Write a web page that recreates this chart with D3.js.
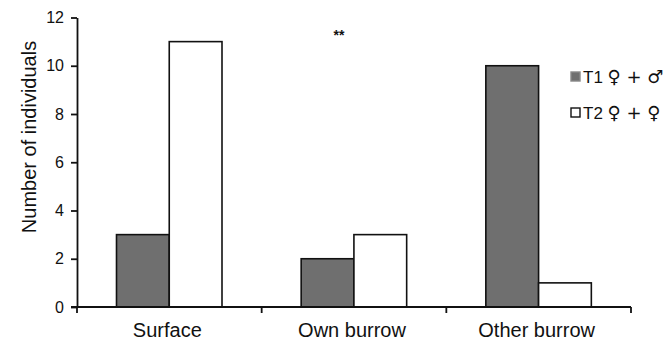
<!DOCTYPE html>
<html>
<head>
<meta charset="utf-8">
<script src="https://cdn.jsdelivr.net/npm/d3@7"></script>
<style>
body{margin:0;background:#fff;}
svg{display:block;}
</style>
</head>
<body>
<svg id="chart" width="670" height="340"></svg>
<script>
// data
var categories = ["Surface", "Own burrow", "Other burrow"];
var seriesNames = ["T1", "T2"];
var seriesSymbols = ["\u2640 + \u2642", "\u2640 + \u2640"];
var t1Values = [3, 2, 10];
var t2Values = [11, 3, 1];
var yTicks = [0, 2, 4, 6, 8, 10, 12];

var marge = {top:17.5, left:77, right:39, bottom:33};
var svg = d3.select("#chart");
var width = 670 - marge.left - marge.right;
var height = 340 - marge.top - marge.bottom;
var g = svg.append("g").attr("transform","translate("+marge.left+","+marge.top+")");

var x0 = d3.scaleBand().domain(categories).range([0,width]).padding(0);
var x1 = d3.scaleBand().domain([0,1]).range([39.5,145]).padding(0);
var y = d3.scaleLinear().domain([0,12]).range([height,0]);

var rows = categories.map(function(c,i){ return {cat:c, vals:[t1Values[i], t2Values[i]]}; });
var fills = ["#6f6f6f", "#ffffff"];

// bars
var grp = g.selectAll(".grp").data(rows).enter().append("g")
  .attr("transform",function(d){ return "translate("+x0(d.cat)+",0)"; });
grp.selectAll("rect").data(function(d){ return d.vals.map(function(v,j){ return {v:v,j:j}; }); })
  .enter().append("rect")
  .attr("x",function(d){ return x1(d.j); })
  .attr("y",function(d){ return y(d.v); })
  .attr("width",x1.bandwidth())
  .attr("height",function(d){ return height - y(d.v); })
  .attr("fill",function(d){ return fills[d.j]; })
  .attr("stroke","#111").attr("stroke-width",1.6);

// y axis
var yAxis = g.append("g").call(d3.axisLeft(y).tickValues(yTicks).tickSize(6).tickSizeOuter(0).tickPadding(7));
yAxis.select(".domain").attr("stroke","#111").attr("stroke-width",1.8);
yAxis.selectAll(".tick line").attr("stroke","#111").attr("stroke-width",1.8);
yAxis.selectAll("text").attr("font-family","'Liberation Sans', Arial, sans-serif").attr("font-size",16).attr("fill","#111");

// x axis
var xa = g.append("g").attr("transform","translate(0,"+height+")");
xa.append("line").attr("x1",-6).attr("x2",width).attr("stroke","#111").attr("stroke-width",1.8);
var bounds = [0].concat(categories.map(function(c){ return x0(c)+x0.bandwidth(); }));
xa.selectAll(".bt").data(bounds).enter().append("line")
  .attr("x1",function(d){ return d; }).attr("x2",function(d){ return d; })
  .attr("y1",0).attr("y2",6).attr("stroke","#111").attr("stroke-width",1.8);
xa.selectAll(".cl").data(categories).enter().append("text")
  .attr("x",function(d){ return x0(d)+x0.bandwidth()/2 - 2; })
  .attr("y",30)
  .attr("text-anchor","middle")
  .attr("font-family","'Liberation Sans', Arial, sans-serif")
  .attr("font-size",20).attr("fill","#111")
  .text(function(d){ return d; });

// y label
svg.append("text")
  .attr("transform","translate(36,137) rotate(-90)")
  .attr("text-anchor","middle")
  .attr("font-family","'Liberation Sans', Arial, sans-serif")
  .attr("font-size",20).attr("fill","#111")
  .text("Number of individuals");

// significance
svg.append("text").attr("x",339).attr("y",40).attr("text-anchor","middle")
  .attr("font-family","'Liberation Sans', Arial, sans-serif").attr("font-size",14).attr("font-weight","bold")
  .attr("fill","#111").text("**");

// legend
var lg = svg.append("g").attr("transform","translate(571,0)");
var items = lg.selectAll(".li").data(seriesNames).enter().append("g")
  .attr("transform",function(d,i){ return "translate(0,"+(77+i*36)+")"; });
items.append("rect").attr("x",0).attr("y",-5).attr("width",9).attr("height",9)
  .attr("fill",function(d,i){ return fills[i]; })
  .attr("stroke",function(d,i){ return i==0 ? "#888" : "#111"; }).attr("stroke-width",1.4);
var lt = items.append("text").attr("x",12).attr("y",6)
  .attr("font-family","'Liberation Sans', Arial, sans-serif").attr("font-size",17).attr("fill","#111");
lt.append("tspan").text(function(d){ return d + " "; });
lt.append("tspan").attr("font-family","'DejaVu Sans'").attr("font-size",18).attr("fill","#111")
  .text(function(d,i){ return seriesSymbols[i]; });
</script>
</body>
</html>
